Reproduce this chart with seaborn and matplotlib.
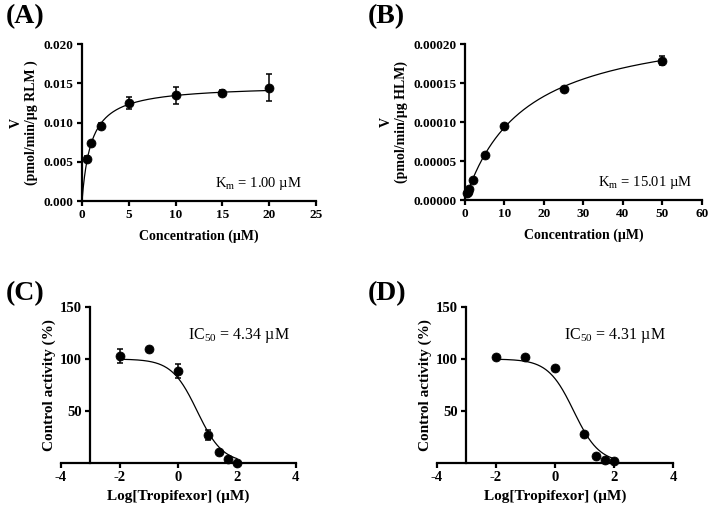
import numpy as np
import seaborn as sns
import matplotlib
matplotlib.use("Agg")
import matplotlib.pyplot as plt
from matplotlib.ticker import FormatStrFormatter, MultipleLocator

# Panel A: RLM kinetics
a_conc = [0.5, 1, 2, 5, 10, 15, 20]
a_rate = [0.00534, 0.00737, 0.00958, 0.0125, 0.01347, 0.0138, 0.01445]
a_err = [0.0004, 0.0002, 0.0004, 0.0008, 0.0011, 0.0003, 0.0017]
a_vmax, a_km = 0.0148, 1.00

# Panel B: HLM kinetics
b_conc = [0.5, 0.75, 1, 2, 5, 10, 25, 50]
b_rate = [0.0000085, 0.0000106, 0.0000148, 0.0000254, 0.0000572, 0.0000945, 0.0001424, 0.0001788]
b_err = [0.0000005, 0.0000005, 0.0000005, 0.0000008, 0.000001, 0.000001, 0.000002, 0.000006]
b_vmax, b_km = 0.000233, 15.01

# Panels C/D: inhibition
log_conc = [-2, -1, 0, 1, 1.398, 1.699, 2]
c_act = [102.9, 109.5, 88.5, 27.0, 10.5, 4.1, 0.3]
c_err = [6.3, 0, 6.3, 5.0, 0, 0, 0]
c_ic50 = 4.34
d_act = [102.2, 102.2, 91.0, 28.0, 7.0, 3.2, 2.0]
d_ic50 = 4.31

sns.set_style("ticks")
plt.rcParams["font.family"] = ["Liberation Serif", "DejaVu Serif"]
plt.rcParams["mathtext.fontset"] = "custom"
plt.rcParams["mathtext.rm"] = "Liberation Serif"
plt.rcParams["axes.unicode_minus"] = False
for key in ["text.color", "axes.labelcolor", "xtick.color", "ytick.color", "axes.edgecolor"]:
    plt.rcParams[key] = "black"

fig = plt.figure(figsize=(7.18, 5.13), dpi=100)
axA = fig.add_axes([0.1142, 0.608, 0.326, 0.306])
axB = fig.add_axes([0.6476, 0.610, 0.330, 0.304])
axC = fig.add_axes([0.085, 0.0975, 0.327, 0.304])
axD = fig.add_axes([0.6086, 0.0975, 0.3287, 0.304])

lab_fs = 10


def style(ax, tick_fs):
    sns.despine(ax=ax)
    for s in ["left", "bottom"]:
        ax.spines[s].set_linewidth(1.6)
        ax.spines[s].set_color("black")
    ax.tick_params(direction="out", length=3.5, width=1.6, labelsize=tick_fs, colors="black", pad=2.5)
    for lab in ax.get_xticklabels() + ax.get_yticklabels():
        lab.set_fontweight("bold")
    ax.set_facecolor("none")


def points(ax, x, y, err=None):
    if err is not None:
        ax.errorbar(x, y, yerr=err, fmt="none", ecolor="black", elinewidth=1.1,
                    capsize=2.5, capthick=1.1, zorder=2, clip_on=False)
    sns.scatterplot(x=x, y=y, ax=ax, color="black", s=42, edgecolor="black",
                    zorder=3, clip_on=False, legend=False)


# A
xa = np.linspace(0, 20, 300)
sns.lineplot(x=xa, y=a_vmax * xa / (a_km + xa), ax=axA, color="black", linewidth=0.9)
points(axA, a_conc, a_rate, a_err)
axA.set_xlim(0, 25)
axA.set_ylim(0, 0.020)
axA.xaxis.set_major_locator(MultipleLocator(5))
axA.yaxis.set_major_locator(MultipleLocator(0.005))
axA.yaxis.set_major_formatter(FormatStrFormatter("%.3f"))
axA.set_xlabel("Concentration (µM)", fontsize=lab_fs, fontweight="bold", labelpad=6)
axA.set_ylabel("V\n(pmol/min/µg RLM )", fontsize=lab_fs, fontweight="bold", labelpad=4)
axA.text(0.94, 0.115, r"K$_{\mathrm{m}}$ = 1.00 µM", transform=axA.transAxes,
         ha="right", va="center", fontsize=10.5)
style(axA, 9.5)

# B
xb = np.linspace(0, 50, 300)
sns.lineplot(x=xb, y=b_vmax * xb / (b_km + xb), ax=axB, color="black", linewidth=0.9)
points(axB, b_conc, b_rate, b_err)
axB.set_xlim(0, 60)
axB.set_ylim(0, 0.0002)
axB.xaxis.set_major_locator(MultipleLocator(10))
axB.yaxis.set_major_locator(MultipleLocator(0.00005))
axB.yaxis.set_major_formatter(FormatStrFormatter("%.5f"))
axB.set_xlabel("Concentration (µM)", fontsize=lab_fs, fontweight="bold", labelpad=6)
axB.set_ylabel("V\n(pmol/min/µg HLM)", fontsize=lab_fs, fontweight="bold", labelpad=4)
axB.text(0.96, 0.115, r"K$_{\mathrm{m}}$ = 15.01 µM", transform=axB.transAxes,
         ha="right", va="center", fontsize=10.5)
style(axB, 9.5)


def inhibition(ax, act, ic50, err, label):
    xs = np.linspace(-2, 2, 300)
    fit = 100 / (1 + 10 ** (xs - np.log10(ic50)))
    sns.lineplot(x=xs, y=fit, ax=ax, color="black", linewidth=0.9)
    points(ax, log_conc, act, err)
    ax.set_xlim(-4, 4)
    ax.set_ylim(0, 150)
    ax.spines["left"].set_position(("data", -3))
    ax.set_xticks([-4, -2, 0, 2, 4])
    ax.set_yticks([50, 100, 150])
    ax.set_xlabel("Log[Tropifexor] (µM)", fontsize=lab_fs + 1, fontweight="bold", labelpad=4)
    ax.set_ylabel("Control activity (%)", fontsize=lab_fs + 1, fontweight="bold", labelpad=3)
    ax.text(0.54, 0.82, label, transform=ax.transAxes, ha="left", va="center", fontsize=11.5)
    style(ax, 10.5)


inhibition(axC, c_act, c_ic50, c_err, r"IC$_{50}$ = 4.34 µM")
inhibition(axD, d_act, d_ic50, None, r"IC$_{50}$ = 4.31 µM")

for lab, x, y in [("(A)", 0.008, 0.968), ("(B)", 0.512, 0.968), ("(C)", 0.008, 0.428), ("(D)", 0.512, 0.428)]:
    fig.text(x, y, lab, fontsize=20, fontweight="bold", ha="left", va="center")

fig.savefig("out.png", dpi=100)
